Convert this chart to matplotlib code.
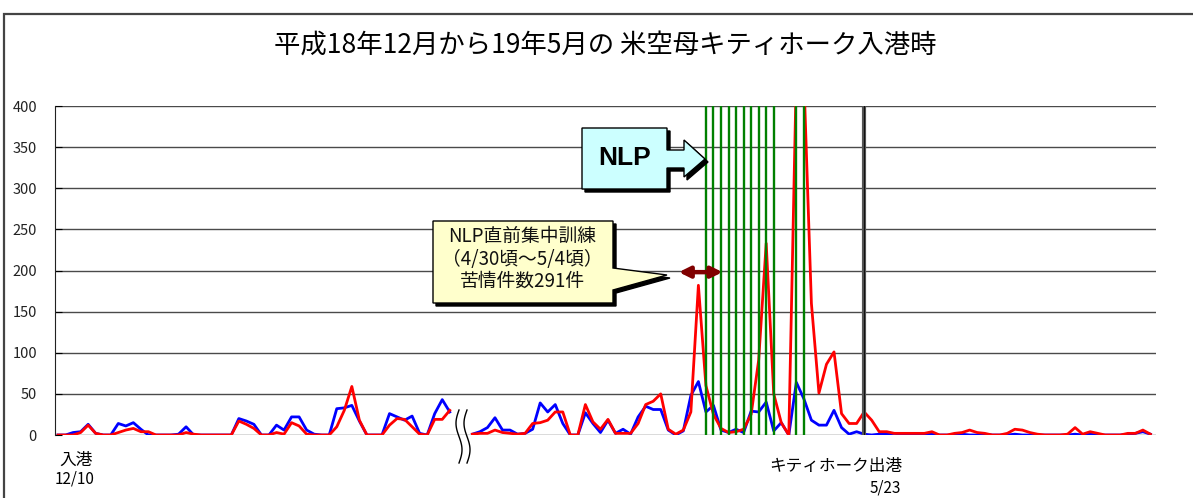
import numpy as np
import matplotlib
matplotlib.use("Agg")
from matplotlib import pyplot as plt
from matplotlib.patches import Polygon, Rectangle
from matplotlib.transforms import Affine2D

plt.rcParams["font.family"] = ["Noto Sans CJK JP", "DejaVu Sans"]

W, H = 1193, 498

title = "平成18年12月から19年5月の 米空母キティホーク入港時"

# daily complaint counts, 12/10 - 1/31
dec_jan_blue = [0, 0, 3, 4, 13, 2, 0, 0, 14, 11, 15, 7, 0, 0, 0, 0, 1, 10, 0, 0,
                0, 0, 0, 0, 20, 17, 13, 0, 0, 12, 6, 22, 22, 6, 1, 0, 0, 32, 33, 36,
                17, 0, 0, 0, 26, 22, 18, 23, 2, 0, 26, 43, 28]
dec_jan_red = [0, 0, 0, 3, 12, 2, 0, 0, 3, 6, 8, 4, 4, 0, 0, 0, 0, 3, 1, 0,
               0, 0, 0, 0, 17, 13, 8, 0, 0, 3, 1, 15, 11, 1, 0, 0, 0, 10, 30, 59,
               18, 0, 0, 0, 12, 20, 19, 10, 1, 0, 19, 19, 30]

# daily complaint counts, 4/1 - 6/30
apr_jun_blue = [1, 4, 9, 21, 6, 6, 1, 2, 7, 39, 28, 37, 14, 0, 0, 27, 14, 3, 18, 2,
                7, 1, 22, 35, 31, 31, 6, 0, 5, 48, 65, 28, 36, 6, 3, 7, 3, 29, 28, 40,
                5, 15, 0, 64, 44, 18, 12, 12, 30, 9, 1, 4, 1, 0, 1, 1, 2, 1, 1, 0,
                1, 1, 0, 0, 0, 1, 0, 0, 1, 0, 0, 0, 1, 0, 0, 0, 0, 0, 0, 0,
                1, 0, 1, 0, 0, 0, 0, 1, 2, 4, 1]
apr_jun_red = [1, 2, 2, 6, 3, 2, 1, 2, 14, 15, 18, 28, 28, 0, 0, 37, 16, 7, 19, 2,
               2, 2, 14, 37, 41, 50, 7, 1, 6, 28, 182, 60, 25, 8, 3, 4, 7, 25, 91, 233,
               50, 15, 0, 440, 435, 160, 51, 86, 101, 26, 14, 14, 28, 18, 4, 4, 2, 2, 2, 2,
               2, 4, 0, 0, 2, 3, 6, 3, 2, 0, 0, 2, 7, 6, 3, 1, 0, 0, 0, 1,
               9, 1, 4, 2, 0, 0, 0, 2, 2, 6, 1]

gap_days = 2                                     # break between the two periods
nlp_days = [31, 32, 33, 34, 35, 36, 37, 38, 39, 40, 43, 44]   # index in apr_jun
departure_day = 52                               # 5/23
yticks = list(range(0, 401, 50))

fig = plt.figure(figsize=(W / 100, H / 100), dpi=100)
px = Affine2D().scale(1 / W, -1 / H).translate(0, 1) + fig.transFigure

# outer frame
fig.patches.append(Rectangle((4 / W, -0.2), 1.2, 1.2 - 14 / H, transform=fig.transFigure,
                             fill=False, edgecolor="#444444", lw=1.6))

ax = fig.add_axes([55 / W, 63 / H, (1155.7 - 55) / W, (435 - 106) / H])

x1 = np.arange(len(dec_jan_blue))
x2 = np.arange(len(apr_jun_blue)) + len(dec_jan_blue) + gap_days

ax.plot(x1, dec_jan_blue, color="#0000ff", lw=2.0, zorder=3)
ax.plot(x2, apr_jun_blue, color="#0000ff", lw=2.0, zorder=3)
ax.plot(x1, dec_jan_red, color="#ff0000", lw=2.0, zorder=4)
ax.plot(x2, apr_jun_red, color="#ff0000", lw=2.0, zorder=4)

for d in nlp_days:
    ax.axvline(x2[0] + d, color="#008000", lw=1.7, zorder=5)
ax.axvline(x2[0] + departure_day, color="#555555", lw=3, zorder=5)
ax.axvline(x2[0] + departure_day, color="#111111", lw=0.8, zorder=6)

ax.set_xlim(-0.4, 145.7)
ax.set_ylim(0, 400)
ax.set_yticks(yticks)
ax.set_xticks([])
ax.yaxis.grid(True, color="#4a4a4a", lw=1)
ax.set_axisbelow(True)
for s in ["top", "right", "bottom"]:
    ax.spines[s].set_visible(False)
ax.spines["left"].set_color("#222222")
ax.tick_params(axis="y", direction="in", length=5, pad=13, labelsize=10.5,
               labelcolor="#222222")

# 4/30 - 5/4 double arrow
ax.annotate("", xy=(x2[0] + 33.2, 198), xytext=(x2[0] + 27.4, 198),
            arrowprops=dict(arrowstyle="<|-|>", color="#800000", lw=3.2,
                            mutation_scale=16, shrinkA=0, shrinkB=0), zorder=7)

# axis break marks
t = np.linspace(0, 2 * np.pi, 60)
for x0 in (459, 467):
    ax.plot(x0 - 3 * np.sin(t), 410 + t / (2 * np.pi) * 53, color="black", lw=1,
            transform=px, clip_on=False)

# NLP arrow callout
nlp_shape = [(582, 128), (667, 128), (667, 150), (684, 150), (684, 140), (705, 159),
             (684, 177), (684, 168), (667, 168), (667, 189), (582, 189)]
sh = [(x + 3, y + 3) for x, y in nlp_shape]
fig.patches.append(Polygon(sh, closed=True, transform=px, facecolor="black",
                           edgecolor="black", lw=1))
fig.patches.append(Polygon(nlp_shape, closed=True, transform=px, facecolor="#ccffff",
                           edgecolor="black", lw=1))
fig.text(625 / W, 1 - 158 / H, "NLP", fontsize=19, fontweight="bold",
         family="Liberation Sans", ha="center", va="center")

# training callout
box_shape = [(433, 221), (613, 221), (613, 268), (667, 275), (613, 290), (613, 303),
             (433, 303)]
sh = [(x + 3, y + 3) for x, y in box_shape]
fig.patches.append(Polygon(sh, closed=True, transform=px, facecolor="black",
                           edgecolor="black", lw=1))
fig.patches.append(Polygon(box_shape, closed=True, transform=px, facecolor="#ffffcc",
                           edgecolor="black", lw=1))
fig.text(522 / W, 1 - 259 / H, "NLP直前集中訓練\n（4/30頃～5/4頃）\n苦情件数291件",
         fontsize=13.5, ha="center", va="center", linespacing=1.08, color="#111111")

fig.text(605 / W, 1 - 45 / H, title, fontsize=19, ha="center", va="center")

fig.text(76 / W, 1 - 460 / H, "入港", fontsize=12, ha="center", va="center")
fig.text(75 / W, 1 - 479 / H, "12/10", fontsize=11, ha="center", va="center")
fig.text(836 / W, 1 - 466 / H, "キティホーク出港", fontsize=12, ha="center", va="center")
fig.text(885 / W, 1 - 488 / H, "5/23", fontsize=11, ha="center", va="center")

fig.savefig("out.png", dpi=100)
